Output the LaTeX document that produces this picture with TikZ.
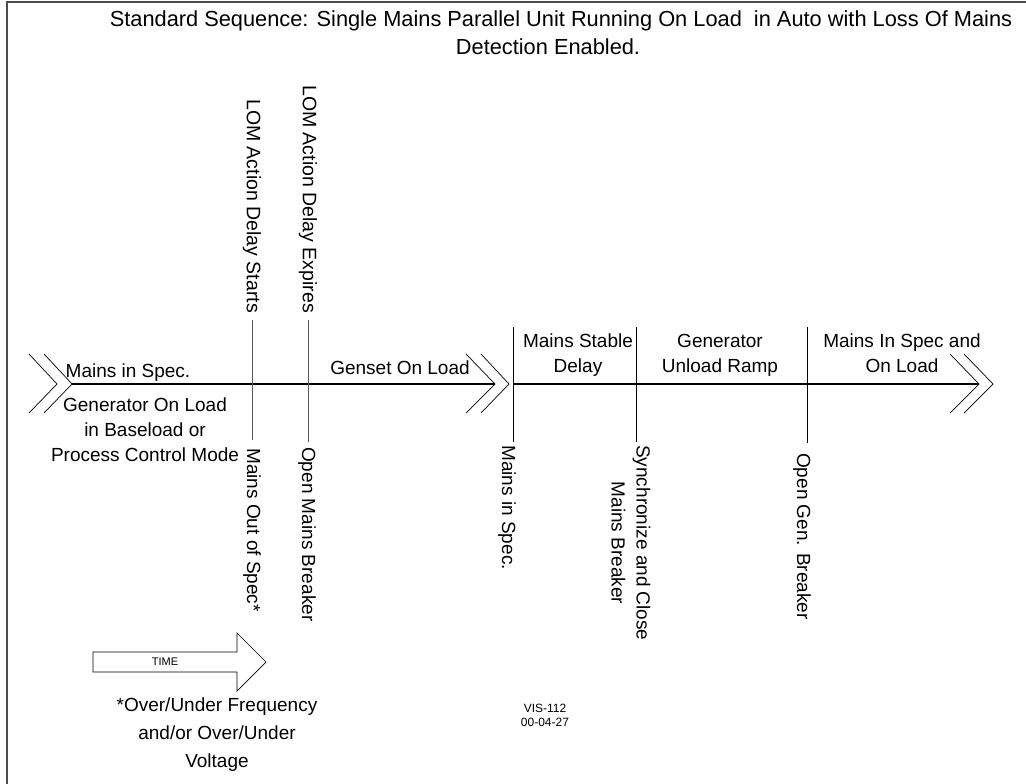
\documentclass[tikz,border=0pt]{standalone}
\usepackage{fontspec}
\setmainfont{Liberation Sans}
\begin{document}
\begin{tikzpicture}[x=1pt,y=-1pt,
  lbl/.style={font=\fontsize{19}{25}\selectfont, align=center, inner sep=0pt},
  vlbl/.style={lbl, rotate=-90, anchor=west},
  vlblup/.style={lbl, font=\fontsize{19.5}{25}\selectfont, rotate=-90, anchor=east},
  mainline/.style={line width=1.1pt, black},
  tickline/.style={line width=1pt, black},
  greytick/.style={line width=1pt, black!65},
  chev/.style={line width=0.7pt, black},
  frame/.style={line width=1.4pt, black!70}]
\useasboundingbox (0,0) rectangle (1026,784);
% frame
\coordinate (fTL) at (7,2);
\coordinate (fTR) at (1026,2);
\coordinate (fBL) at (7,784);
\draw[frame] (fBL) -- (fTL) -- (fTR);
% title
\node[lbl, font=\fontsize{21.8}{28}\selectfont, anchor=north] (title) at (548,11)
  {\hspace*{26pt}Standard Sequence: Single Mains Parallel Unit Running On Load\ \ in Auto with Loss Of Mains\\Detection Enabled.};
% main timeline
\coordinate (L1) at (72,384);
\coordinate (L2) at (495,384);
\coordinate (R1) at (513,384);
\coordinate (R2) at (979,384);
\draw[mainline] (L1) -- (L2);
\draw[mainline] (R1) -- (R2);
% chevrons
\draw[chev] (29,354) -- (57,384) -- (29,413);
\draw[chev] (44,354) -- (72,384) -- (44,413);
\draw[chev] (466,354) -- (495,384) -- (466,413);
\draw[chev] (481,354) -- (509,384) -- (481,413);
\draw[chev] (950,354) -- (979,384) -- (950,413);
\draw[chev] (964,354) -- (993,384) -- (964,413);
% event ticks
\coordinate (t1a) at (252,320); \coordinate (t1b) at (252,440);
\coordinate (t2a) at (308,320); \coordinate (t2b) at (308,442);
\coordinate (t3a) at (513,327); \coordinate (t3b) at (513,442);
\coordinate (t4a) at (636,327); \coordinate (t4b) at (636,442);
\coordinate (t5a) at (807,327); \coordinate (t5b) at (807,443);
\draw[greytick] (t1a) -- (t1b);
\draw[greytick] (t2a) -- (t2b);
\draw[tickline] (t3a) -- (t3b);
\draw[tickline] (t4a) -- (t4b);
\draw[tickline] (t5a) -- (t5b);
% vertical labels
\node[vlblup] (lomstart) at (252,313) {LOM Action Delay Starts};
\node[vlblup] (lomexp) at (308,313) {LOM Action Delay Expires};
\node[vlbl] (outspec) at (252,448) {Mains Out of Spec*};
\node[vlbl] (openmains) at (307,447) {Open Mains Breaker};
\node[vlbl] (inspec) at (507,445) {Mains in Spec.};
\node[vlbl] (sync) at (631,445) {Synchronize and Close\\Mains Breaker};
\node[vlbl] (opengen) at (802,453) {Open Gen. Breaker};
% horizontal labels
\node[lbl, anchor=base] (mis) at (128,377) {Mains in Spec.};
\node[lbl, anchor=north] (genload) at (145,398) {Generator On Load\\in Baseload or\\Process Control Mode};
\node[lbl, anchor=base] (genset) at (400,374) {Genset On Load};
\node[lbl, anchor=north] (stable) at (578,334) {Mains Stable\\Delay};
\node[lbl, anchor=north] (unload) at (720,334) {Generator\\Unload Ramp};
\node[lbl, anchor=north] (onload) at (902,334) {Mains In Spec and\\On Load};
% time arrow
\draw[line width=0.7pt] (93,652) -- (237,652) -- (237,633) -- (266,662) -- (237,691) -- (237,672) -- (93,672) -- cycle;
\node[inner sep=0pt, font=\fontsize{11}{13}\selectfont] (time) at (165,662) {TIME};
% footnote
\node[lbl, font=\fontsize{19}{28}\selectfont, anchor=north] (foot) at (217,698)
  {*Over/Under Frequency\\and/or Over/Under\\Voltage};
% drawing id
\node[lbl, font=\fontsize{12}{14}\selectfont, anchor=north] (vis) at (545,704) {VIS-112\\00-04-27};
\end{tikzpicture}
\end{document}
